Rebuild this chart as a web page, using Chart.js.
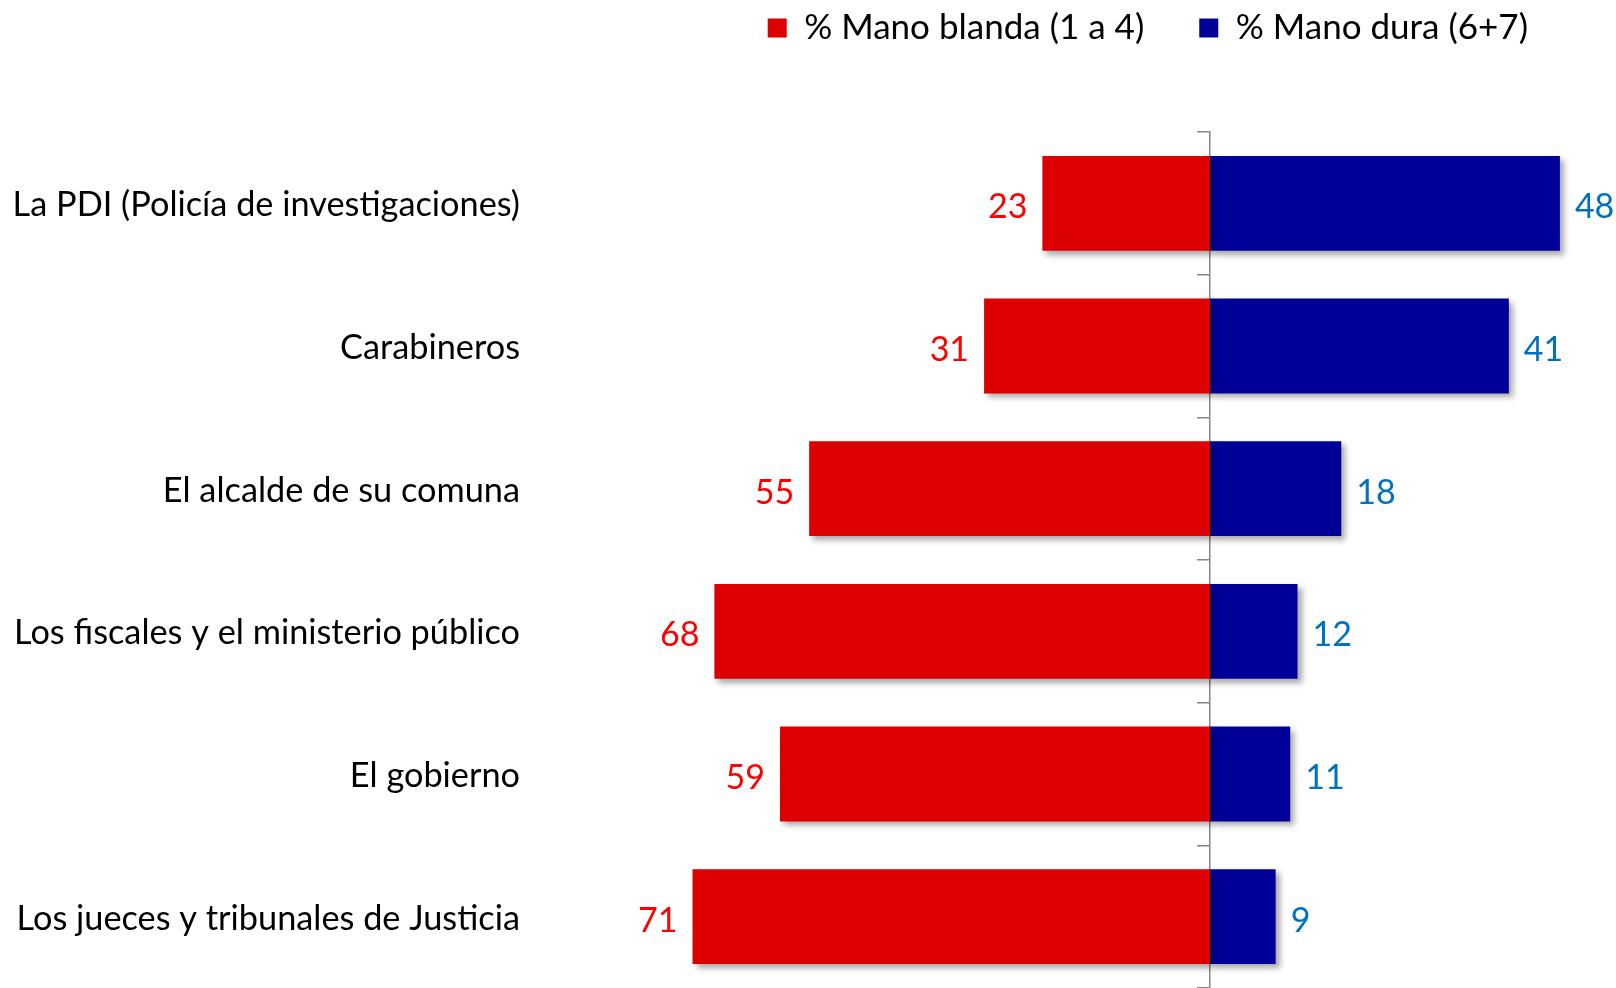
<!DOCTYPE html>
<html>
<head>
<meta charset="utf-8">
<script src="https://cdn.jsdelivr.net/npm/chart.js@4.4.1/dist/chart.umd.min.js"></script>
<style>
  html, body { margin: 0; padding: 0; background: #fff; }
</style>
</head>
<body>
<canvas id="chart" width="1616" height="988"></canvas>
<script>
// Chart values
const categories = [
    'La PDI (Policía de investigaciones)',
    'Carabineros',
    'El alcalde de su comuna',
    'Los fiscales y el ministerio público',
    'El gobierno',
    'Los jueces y tribunales de Justicia'
];
const manoBlanda = [23, 31, 55, 68, 59, 71];
const manoDura = [48, 41, 18, 12, 11, 9];
const seriesNames = ['% Mano blanda (1 a 4)', '% Mano dura (6+7)'];

const FONT = 'Lato';
Chart.defaults.font.family = FONT;

// soft drop shadow under the bars
const barShadow = {
    id: 'barShadow',
    beforeDatasetsDraw(chart) {
        const ctx = chart.ctx;
        ctx.save();
        ctx.shadowColor = 'rgba(0, 0, 0, 0.35)';
        ctx.shadowBlur = 6;
        ctx.shadowOffsetX = 4;
        ctx.shadowOffsetY = 4;
    },
    afterDatasetsDraw(chart) {
        chart.ctx.restore();
    }
};

// value labels next to the bar ends
const barLabels = {
    id: 'barLabels',
    afterDatasetsDraw(chart) {
        const ctx = chart.ctx;
        ctx.save();
        ctx.font = '34px ' + FONT;
        ctx.textBaseline = 'middle';
        chart.getDatasetMeta(0).data.forEach((bar, i) => {
            ctx.fillStyle = '#FF0000';
            ctx.textAlign = 'right';
            ctx.fillText(manoBlanda[i], bar.x - 15, bar.y + 4);
        });
        chart.getDatasetMeta(1).data.forEach((bar, i) => {
            ctx.fillStyle = '#0070C0';
            ctx.textAlign = 'left';
            ctx.fillText(manoDura[i], bar.x + 15, bar.y + 4);
        });
        ctx.restore();
    }
};

const ctx = document.getElementById('chart').getContext('2d');
new Chart(ctx, {
    type: 'bar',
    data: {
        labels: categories,
        datasets: [{
            label: seriesNames[0],
            data: manoBlanda.map(v => -v),
            backgroundColor: '#DD0000',
            borderWidth: 0,
            barPercentage: 0.665,
            categoryPercentage: 1
        }, {
            label: seriesNames[1],
            data: manoDura,
            backgroundColor: '#000099',
            borderWidth: 0,
            barPercentage: 0.665,
            categoryPercentage: 1
        }]
    },
    options: {
        indexAxis: 'y',
        responsive: false,
        animation: false,
        layout: {
            padding: { top: -44.5, right: 33, left: 0, bottom: -3 }
        },
        plugins: {
            legend: {
                position: 'top',
                align: 'end',
                labels: {
                    boxWidth: 19,
                    boxHeight: 19,
                    padding: 55,
                    color: '#000',
                    font: { family: FONT, size: 35 }
                }
            },
            tooltip: { enabled: false }
        },
        scales: {
            x: {
                position: 'top',
                stacked: true,
                min: -93.3,
                max: 51.17,
                ticks: { display: false },
                grid: { display: false },
                border: { display: false },
                afterFit(scale) { scale.height = 76.5; }
            },
            y: {
                stacked: true,
                grid: { display: false },
                border: { display: false },
                ticks: {
                    color: '#000',
                    padding: 2,
                    labelOffset: 2,
                    font: { family: FONT, size: 34.3 }
                },
                afterFit(scale) {
                    scale.width = 530;
                    scale.paddingTop = 0;
                    scale.paddingBottom = 0;
                }
            },
            y2: {
                type: 'category',
                position: { x: 0 },
                offset: true,
                z: 1,
                grid: {
                    offset: true,
                    drawOnChartArea: false,
                    drawTicks: true,
                    tickLength: 12,
                    color: '#868686',
                    lineWidth: 1.5
                },
                border: { display: true, color: '#868686', width: 1.5 },
                ticks: { display: false }
            }
        }
    },
    plugins: [barShadow, barLabels]
});
</script>
</body>
</html>
